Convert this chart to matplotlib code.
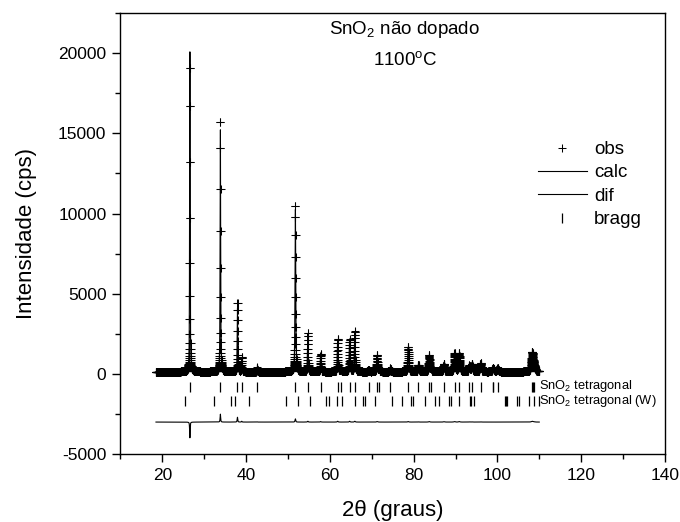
import numpy as np
import matplotlib
matplotlib.use("Agg")
import matplotlib.pyplot as plt
from matplotlib.ticker import MultipleLocator

plt.rcParams['font.family'] = ['Liberation Sans', 'DejaVu Sans']
plt.rcParams['mathtext.default'] = 'regular'
plt.rcParams['axes.unicode_minus'] = False

# Rutile SnO2 reflections (2theta, Cu K-alpha1) used in the refinement
refl_pos = [26.59, 33.87, 37.95, 38.97, 42.64, 51.77, 54.75, 57.81, 61.87, 62.60,
            64.72, 65.96, 69.23, 71.26, 71.77, 74.43, 78.70, 81.13, 83.70, 84.18,
            87.22, 89.76, 90.88, 93.28, 93.92, 95.98, 98.89, 99.04, 100.03,
            108.24, 108.40, 108.76]
# Peak heights above background (cps): calculated and observed
calc_height = [20300, 15300, 4000, 850, 250, 10200, 2350, 1100, 2000, 200,
               1950, 2450, 100, 1000, 150, 200, 1500, 420, 1000, 150,
               450, 1100, 1100, 350, 450, 500, 150, 100, 200,
               750, 500, 280]
obs_height = [19300, 15800, 4300, 900, 260, 10400, 2400, 1130, 2050, 200,
              2000, 2500, 100, 1030, 150, 200, 1530, 430, 1030, 150,
              470, 1130, 1130, 360, 460, 510, 150, 100, 200,
              780, 520, 290]
# Reflection marks for the W L-alpha1 line
w_pos = [25.46, 32.42, 36.31, 37.28, 40.78, 49.46, 52.29, 55.19, 59.04, 59.72,
         61.73, 62.89, 65.97, 67.89, 68.36, 70.85, 74.84, 77.11, 79.48, 79.94,
         82.76, 85.11, 86.14, 88.34, 88.93, 90.82, 93.48, 93.68, 94.49,
         101.88, 102.02, 102.34, 104.74, 105.20, 107.64, 108.72, 109.90]

background = 140.0          # flat background (cps)
caglioti = (0.115, 0.0, 0.013)   # U, V, W
eta = 0.6                   # Lorentzian fraction of the pseudo-Voigt
scan_start, scan_stop, scan_step = 18.5, 110.0, 0.02
diff_offset = -3000
bragg_rows = (-800, -1700)

two_theta = np.arange(scan_start, scan_stop, scan_step)


def profile(heights):
    y = np.full_like(two_theta, background)
    U, V, W = caglioti
    for p, h in zip(refl_pos, heights):
        t = np.tan(np.radians(p / 2))
        H = np.sqrt(U * t * t + V * t + W)
        d = (two_theta - p) / H
        lor = 1.0 / (1.0 + 4.0 * d * d)
        gau = np.exp(-4.0 * np.log(2) * d * d)
        y += h * (eta * lor + (1 - eta) * gau)
    return y


y_calc = profile(calc_height)
y_obs = profile(obs_height)
y_diff = y_obs - y_calc + diff_offset

fig = plt.figure(figsize=(6.8, 5.22), dpi=100)
ax = fig.add_axes([0.177, 0.130, 0.801, 0.845])

ax.plot(two_theta, y_obs, linestyle='none', marker='+', ms=6, mew=0.75,
        color='black', label='obs')
ax.plot(two_theta, y_calc, color='black', lw=0.8, label='calc')
ax.plot(two_theta, y_diff, color='black', lw=0.8, label='dif')
ax.plot(refl_pos, np.full(len(refl_pos), bragg_rows[0]), linestyle='none',
        marker='|', ms=6.5, mew=0.9, color='black', label='bragg')
ax.plot(w_pos, np.full(len(w_pos), bragg_rows[1]), linestyle='none',
        marker='|', ms=6.5, mew=0.9, color='black')

ax.text(110.0, bragg_rows[0] + 60, 'SnO$_2$ tetragonal', fontsize=9.3, va='center')
ax.text(110.0, bragg_rows[1] + 20, 'SnO$_2$ tetragonal (W)', fontsize=9.3, va='center')

ax.text(77.9, 21450, 'SnO$_2$ não dopado', fontsize=13.5, ha='center', va='center')
ax.text(77.9, 19550, '1100$^{o}$C', fontsize=13.5, ha='center', va='center')

ax.set_xlim(10, 140)
ax.set_ylim(-5000, 22500)
ax.xaxis.set_major_locator(MultipleLocator(20))
ax.xaxis.set_minor_locator(MultipleLocator(10))
ax.yaxis.set_major_locator(MultipleLocator(5000))
ax.yaxis.set_minor_locator(MultipleLocator(2500))
ax.tick_params(which='major', direction='out', length=6, width=1,
               labelsize=12.5, pad=4)
ax.tick_params(which='minor', direction='out', length=3.5, width=1)
ax.tick_params(top=False, right=False)
for s in ax.spines.values():
    s.set_linewidth(1.0)

ax.set_xlabel('2θ (graus)', fontsize=16, labelpad=12)
ax.set_ylabel('Intensidade (cps)', fontsize=16, labelpad=15)

leg = ax.legend(loc='upper left', bbox_to_anchor=(538 / 680, 1 - 141 / 522),
                bbox_transform=fig.transFigure, frameon=False, fontsize=13.5,
                handlelength=2.6, handletextpad=0.4, labelspacing=0.33,
                borderpad=0, borderaxespad=0)

fig.savefig('out.png', dpi=100)
